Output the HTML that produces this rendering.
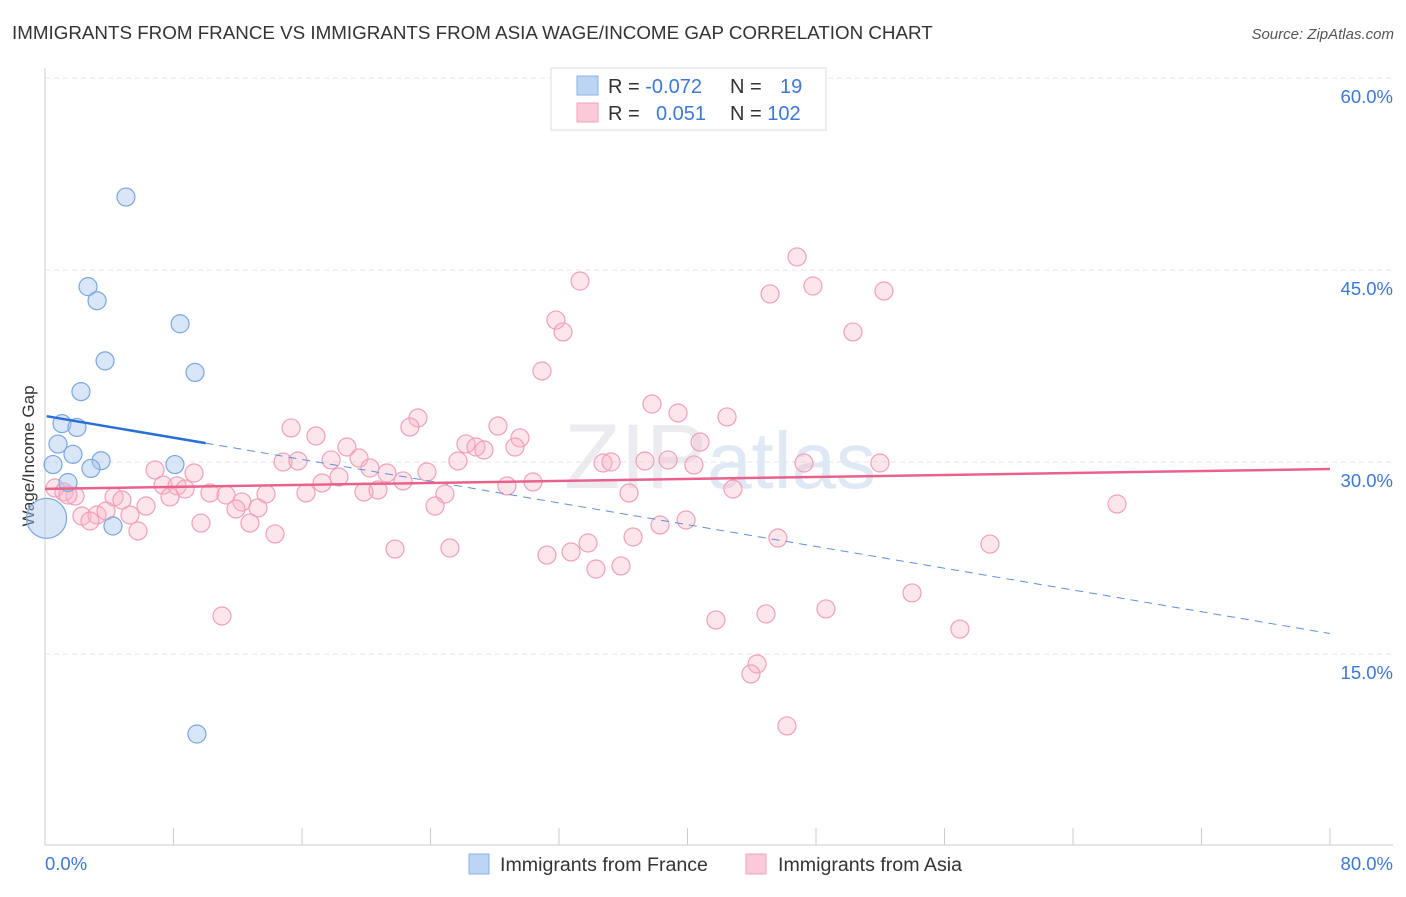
<!DOCTYPE html>
<html><head><meta charset="utf-8"><style>
body{margin:0;background:#fff;font-family:"Liberation Sans",sans-serif;}
svg text{font-family:"Liberation Sans",sans-serif;}
</style></head><body>
<svg id="c" width="1406" height="892" xmlns="http://www.w3.org/2000/svg">
<text x="12" y="39" font-size="18.8" fill="#333">IMMIGRANTS FROM FRANCE VS IMMIGRANTS FROM ASIA WAGE/INCOME GAP CORRELATION CHART</text>
<text x="1394" y="39" font-size="15" fill="#555" font-style="italic" text-anchor="end">Source: ZipAtlas.com</text>
<text x="34" y="456" font-size="17" fill="#333" text-anchor="middle" transform="rotate(-90 34 456)">Wage/Income Gap</text>
<text x="720" y="488" font-size="92" fill="#ececf0" text-anchor="middle" font-family="Liberation Serif">ZIP<tspan fill="#dfe8f5" font-family="Liberation Sans" font-size="80">atlas</tspan></text>
<g id="grid"></g><g id="pts"></g><g id="lines"></g>
<g>
<rect x="551" y="68" width="275" height="62" fill="#fff" stroke="#ddd"/>
<rect x="577" y="76" width="21" height="19" fill="#bcd5f5" stroke="#8ab0e6"/>
<rect x="577" y="103" width="21" height="19" fill="#fbc9d8" stroke="#f0a2ba"/>
<text x="608" y="93" font-size="20" fill="#333">R = <tspan fill="#3b78d8">-0.072</tspan></text>
<text x="730" y="93" font-size="20" fill="#333">N = <tspan fill="#3b78d8" x="780">19</tspan></text>
<text x="608" y="120" font-size="20" fill="#333">R = <tspan fill="#3b78d8" x="656">0.051</tspan></text>
<text x="730" y="120" font-size="20" fill="#333">N = <tspan fill="#3b78d8">102</tspan></text>
</g>
<g>
<rect x="469" y="854" width="20" height="20" fill="#bcd5f5" stroke="#8ab0e6"/>
<text x="500" y="871" font-size="19.6" fill="#333">Immigrants from France</text>
<rect x="746" y="854" width="20" height="20" fill="#fbc9d8" stroke="#f0a2ba"/>
<text x="778" y="871" font-size="19.6" fill="#333">Immigrants from Asia</text>
</g>
</svg>
<script>
const yTicks=[15,30,45,60];
const xTickLabels=["0.0%","80.0%"];
const franceX=[5.04,2.68,3.24,8.41,3.74,9.34,2.24,1.06,1.99,0.81,1.74,0.5,3.49,2.86,8.09,1.43,4.23,9.46,0.1];
const franceY=[50.7,43.7,42.6,40.8,37.9,37.0,35.5,33.0,32.7,31.4,30.6,29.8,30.1,29.5,29.8,28.4,25.0,8.75,25.6];
const asiaPx=[[797,257],[580,281],[770,294],[813,286],[884,291],[556,320],[563,332],[853,332],[542,371],[652,404],[678,413],[727,417],[418,418],[291,428],[410,427],[498,426],[316,436],[520,438],[347,447],[466,444],[476,447],[484,450],[700,442],[515,447],[359,458],[283,462],[298,461],[331,460],[458,461],[603,463],[611,462],[645,461],[668,460],[694,465],[804,463],[880,463],[155,470],[194,473],[370,468],[387,473],[427,472],[403,481],[339,477],[322,483],[163,485],[177,486],[185,489],[210,493],[266,494],[306,493],[364,492],[378,490],[445,494],[629,493],[733,489],[507,486],[533,482],[55,488],[64,492],[75,496],[114,497],[122,500],[170,497],[226,495],[242,502],[258,508],[236,509],[146,506],[435,506],[1117,504],[82,516],[97,515],[106,511],[130,515],[90,521],[201,523],[250,523],[660,525],[686,520],[138,531],[275,534],[633,537],[588,543],[778,538],[990,544],[395,549],[450,548],[547,555],[571,552],[596,569],[621,566],[912,593],[826,609],[766,614],[222,616],[716,620],[960,629],[757,664],[751,674],[787,726],[68,495]];
const asiaX=asiaPx.map(p=>+((p[0]-45)/16.0625).toFixed(2));
const asiaY=asiaPx.map(p=>+((846-p[1])/12.8).toFixed(2));
const franceTrend=[33.6,16.6];
const asiaTrend=[27.9,29.45];
const X=v=>45+v*16.0625, Y=v=>846-v*12.8;
const NS="http://www.w3.org/2000/svg";
function mk(t,a,parent){const e=document.createElementNS(NS,t);for(const k in a)e.setAttribute(k,a[k]);document.getElementById(parent).appendChild(e);return e;}
const ax=mk('line',{x1:45,y1:845,x2:1393,y2:845,stroke:'#ccc'},'grid');


const ay=mk('line',{x1:45,y1:68,x2:45,y2:845,stroke:'#ccc'},'grid');


for(let i=0;i<=10;i++){const t=mk('line',{x1:X(i*8),y1:828,x2:X(i*8),y2:845,stroke:'#ccc'},'grid');

}
yTicks.forEach(v=>{const g=mk('line',{x1:45,y1:Y(v),x2:1393,y2:Y(v),stroke:'#e4e4e4','stroke-dasharray':'5,4'},'grid');


const t=mk('text',{x:1393,y:Y(v)+25,'font-size':18.5,fill:'#3b78d8','text-anchor':'end'},'grid');t.textContent=v.toFixed(1)+'%';

});
const l0=mk('text',{x:45,y:870,'font-size':18.5,fill:'#3b78d8'},'grid');l0.textContent=xTickLabels[0];


const l1=mk('text',{x:1393,y:870,'font-size':18.5,fill:'#3b78d8','text-anchor':'end'},'grid');l1.textContent=xTickLabels[1];


asiaX.forEach((x,i)=>{const c=mk('circle',{cx:X(x),cy:Y(asiaY[i]),r:9,fill:'rgba(248,180,200,0.35)',stroke:'#f0a0b8','stroke-width':1.2},'pts');

});
franceX.forEach((x,i)=>{const c=mk('circle',{cx:X(x),cy:Y(franceY[i]),r:i==18?20:9,fill:'rgba(170,200,240,0.45)',stroke:'#7aa6e0','stroke-width':1.2},'pts');

});
const fy=x=>franceTrend[0]+(franceTrend[1]-franceTrend[0])*x/80;
const fs=mk('line',{x1:X(0.1),y1:Y(fy(0.1)),x2:X(10),y2:Y(fy(10)),stroke:'#2a6fd6','stroke-width':2.5},'lines');


const fd=mk('line',{x1:X(10),y1:Y(fy(10)),x2:X(80),y2:Y(fy(80)),stroke:'#5b8fdc','stroke-width':1,'stroke-dasharray':'8,6'},'lines');


const at=mk('line',{x1:X(0),y1:Y(asiaTrend[0]),x2:X(80),y2:Y(asiaTrend[1]),stroke:'#e8628c','stroke-width':2.5},'lines');


</script>
</body></html>
